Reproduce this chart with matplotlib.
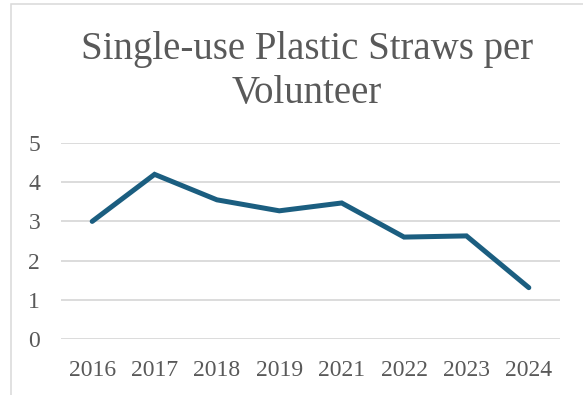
import matplotlib
matplotlib.use('Agg')
import matplotlib.pyplot as plt
from matplotlib.patches import Rectangle

years = ['2016', '2017', '2018', '2019', '2021', '2022', '2023', '2024']
straws_per_volunteer = [3.0, 4.2, 3.55, 3.27, 3.47, 2.6, 2.63, 1.31]
y_ticks = [0, 1, 2, 3, 4, 5]

W, H, DPI = 583, 395, 100
LINE = '#1b5e80'
GRID = '#d9d9d9'
TEXT = '#595959'

plt.rcParams['font.family'] = ['Liberation Serif', 'DejaVu Serif']

fig = plt.figure(figsize=(W / DPI, H / DPI), dpi=DPI)
ax = fig.add_axes([61 / W, 1 - 339 / H, (560 - 61) / W, (339 - 143) / H])

x = list(range(len(years)))
ax.plot(x, straws_per_volunteer, color=LINE, lw=3.6,
        solid_joinstyle='miter', solid_capstyle='round', zorder=3)

ax.set_xlim(-0.5, len(years) - 0.5)
ax.set_ylim(0, 5)
ax.set_yticks(y_ticks)
ax.set_xticks(x)
ax.set_xticklabels(years)
ax.yaxis.grid(True, color=GRID, lw=1.3)
ax.set_axisbelow(True)
for s in ax.spines.values():
    s.set_visible(False)
ax.tick_params(axis='both', length=0, labelsize=17, labelcolor=TEXT)
ax.tick_params(axis='y', pad=15)
ax.tick_params(axis='x', pad=15)

fig.text(307 / W, 1 - 31 / H, 'Single-use Plastic Straws per\nVolunteer',
         ha='center', va='top', multialignment='center',
         fontsize=28, color=TEXT, linespacing=1.25)

# chart-area border (only the top and left edges fall inside the canvas)
fig.patches.append(Rectangle((11 / W, -0.1), 1.2, 1 - 4 / H + 0.1,
                             transform=fig.transFigure, fill=False,
                             edgecolor=GRID, lw=1.1))

fig.savefig('out.png', dpi=DPI)
